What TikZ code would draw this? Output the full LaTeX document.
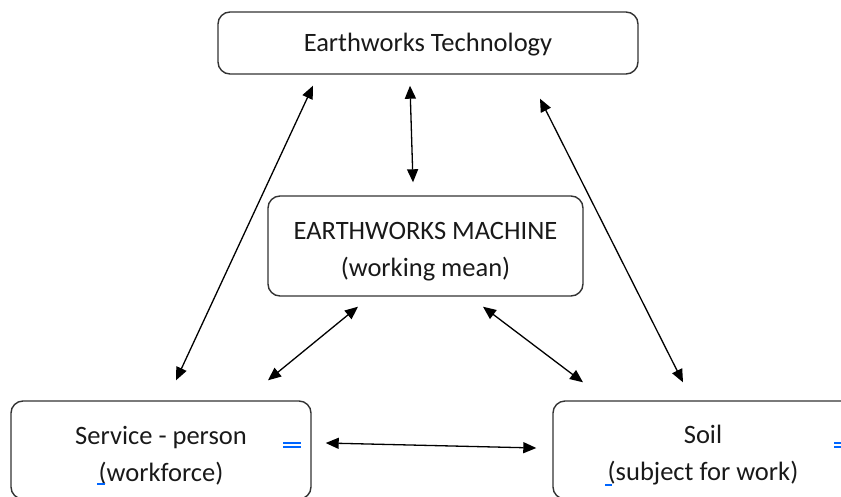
\documentclass[tikz,border=0pt]{standalone}
\usepackage{fontspec}
\setmainfont{Carlito}
\usepackage{tikz}
\usetikzlibrary{positioning,arrows.meta}

\newcommand{\topgap}{\rule{0pt}{29pt}}

\tikzset{
    blockbox/.style={draw=black!80, line width=1.4pt, rounded corners=12pt, align=center,
        font=\fontsize{26.5}{37}\selectfont, text=black!90},
    twoway/.style={{Triangle[length=13pt,width=11pt]}-{Triangle[length=13pt,width=11pt]}, line width=1.3pt},
    spellmark/.style={draw=blue!60!cyan, line width=1.2pt}
}

\begin{document}
\begin{tikzpicture}[x=1pt,y=-1pt]

    \useasboundingbox (0,0) rectangle (841,496);
    \clip (0,0) rectangle (841,496);

    % Draw the boxes
    \node[blockbox, minimum width=420pt, minimum height=62pt] (tech) at (428,43) {\rule{0pt}{21pt}Earthworks Technology};
    \node[blockbox, minimum width=315pt, minimum height=100pt] (machine) at (425.5,246) {\topgap EARTHWORKS MACHINE\\(working mean)};
    \node[blockbox, minimum width=300pt, minimum height=98pt] (person) at (161,450) {\topgap Service - person\\(workforce)};
    \node[blockbox, minimum width=300pt, minimum height=98pt] (soil) at (703,450) {\topgap Soil\\(subject for work)};

    % Draw the two-way arrows
    \draw[twoway] ([xshift=-115pt,yshift=-11pt]tech.south) -- ([xshift=15pt,yshift=20pt]person.north);
    \draw[twoway] ([xshift=-18pt,yshift=-11pt]tech.south) -- ([xshift=-12.5pt,yshift=13pt]machine.north);
    \draw[twoway] ([xshift=112pt,yshift=-24pt]tech.south) -- ([xshift=-20pt,yshift=18pt]soil.north);
    \draw[twoway] ([xshift=-67.5pt,yshift=-10pt]machine.south) -- ([xshift=107pt,yshift=20pt]person.north);
    \draw[twoway] ([xshift=57.5pt,yshift=-10pt]machine.south) -- ([xshift=-120pt,yshift=18pt]soil.north);
    \draw[twoway] ([xshift=14pt,yshift=7pt]person.east) -- ([xshift=-16pt,yshift=2pt]soil.west);

    % Small blue marks
    \draw[spellmark] (283,443) -- (301,443) (283,447) -- (301,447);
    \draw[spellmark] (97,484) -- (105,484);
    \draw[spellmark] (834,443) -- (841,443) (834,447) -- (841,447);
    \draw[spellmark] (605,485) -- (612,485);

\end{tikzpicture}
\end{document}
